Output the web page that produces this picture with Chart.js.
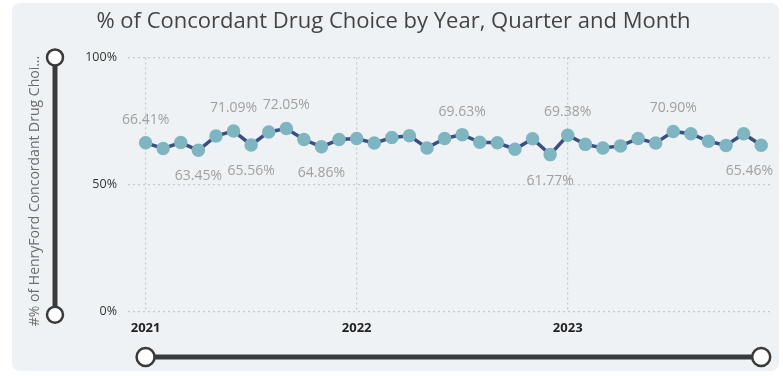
<!DOCTYPE html>
<html>
<head>
<meta charset="utf-8">
<script src="https://cdn.jsdelivr.net/npm/chart.js@4"></script>
<style>
  html, body { margin: 0; padding: 0; background: #ffffff; }
  #wrap { width: 783px; height: 376px; position: relative; }
</style>
</head>
<body>
<div id="wrap"><canvas id="drugChoiceChart" width="783" height="376"></canvas></div>
<script>
// Yearly tick labels (one tick every 12 months)
const years = ['2021', '2022', '2023'];

// Monthly % of concordant drug choice, Jan 2021 .. Dec 2023
const concordantPct = [
  66.41, 64.2, 66.5, 63.45, 69.1, 71.09, 65.56, 70.7, 72.05, 67.7, 64.86, 67.7,
  68.1, 66.3, 68.5, 69.2, 64.4, 68.1, 69.63, 66.6, 66.4, 63.9, 68.0, 61.77,
  69.38, 65.8, 64.4, 65.2, 68.1, 66.3, 70.90, 70.0, 67.0, 65.4, 70.0, 65.46
];

// Which points get a value label, and on which side of the line
const labelsAbove = [0, 5, 8, 18, 24, 30];
const labelsBelow = [3, 6, 10, 23, 35];

const FONT = "'Open Sans', 'Noto Sans', sans-serif";

// Light card behind the whole visual
const cardBackground = {
  id: 'cardBackground',
  beforeDraw(chart) {
    const ctx = chart.ctx;
    ctx.save();
    ctx.fillStyle = '#eef2f4';
    ctx.beginPath();
    ctx.roundRect(12, 3, 767, 368, 8);
    ctx.fill();
    ctx.restore();
  }
};

// Value labels, slicer bars and the rotated axis caption
const overlay = {
  id: 'overlay',
  afterDatasetsDraw(chart) {
    const ctx = chart.ctx;
    const meta = chart.getDatasetMeta(0);
    ctx.save();
    ctx.font = '14px ' + FONT;
    ctx.fillStyle = '#a0a0a0';
    ctx.textAlign = 'center';
    ctx.textBaseline = 'middle';
    const put = (i, dy) => {
      const p = meta.data[i];
      const txt = concordantPct[i].toFixed(2) + '%';
      const half = ctx.measureText(txt).width / 2;
      const x = Math.min(p.x, 773 - half);
      ctx.fillText(txt, x, p.y + dy);
    };
    labelsAbove.forEach(i => put(i, -23));
    labelsBelow.forEach(i => put(i, 26));
    ctx.restore();
  },
  afterDraw(chart) {
    const ctx = chart.ctx;
    const xs = chart.scales.x;
    const ys = chart.scales.y;

    // rotated y caption
    ctx.save();
    ctx.translate(35, 191);
    ctx.rotate(-Math.PI / 2);
    ctx.font = '14px ' + FONT;
    ctx.fillStyle = '#6e6e6e';
    ctx.textAlign = 'center';
    ctx.textBaseline = 'middle';
    ctx.fillText('#% of HenryFord Concordant Drug Choi...', 0, 0);
    ctx.restore();

    const handle = (x, y, r) => {
      ctx.beginPath();
      ctx.arc(x, y, r, 0, Math.PI * 2);
      ctx.fillStyle = '#ffffff';
      ctx.fill();
      ctx.lineWidth = 2.5;
      ctx.strokeStyle = '#3a3a3a';
      ctx.stroke();
    };

    ctx.save();
    ctx.strokeStyle = '#3a3a3a';
    ctx.lineCap = 'butt';

    // vertical range slider
    const vx = 55;
    const vTop = ys.getPixelForValue(100);
    const vBot = ys.getPixelForValue(0) + 3;
    ctx.lineWidth = 5;
    ctx.beginPath();
    ctx.moveTo(vx, vTop);
    ctx.lineTo(vx, vBot);
    ctx.stroke();
    handle(vx, vTop, 8);
    handle(vx, vBot, 8);

    // horizontal date slider
    const hy = 357;
    const hLeft = xs.getPixelForValue(0);
    const hRight = xs.getPixelForValue(concordantPct.length - 1);
    ctx.strokeStyle = '#3a3a3a';
    ctx.lineWidth = 5;
    ctx.beginPath();
    ctx.moveTo(hLeft, hy);
    ctx.lineTo(hRight, hy);
    ctx.stroke();
    handle(hLeft, hy, 9);
    handle(hRight, hy, 9);
    ctx.restore();
  }
};

const ctx = document.getElementById('drugChoiceChart').getContext('2d');

new Chart(ctx, {
  type: 'line',
  data: {
    datasets: [{
      data: concordantPct.map((v, i) => ({ x: i, y: v })),
      borderColor: '#3a5080',
      borderWidth: 3.5,
      pointBackgroundColor: '#7fb5c1',
      pointBorderColor: '#7fb5c1',
      pointRadius: 5,
      tension: 0
    }]
  },
  options: {
    responsive: false,
    animation: false,
    layout: { padding: { left: 17, right: 13, top: 0, bottom: 0 } },
    plugins: {
      legend: { display: false },
      tooltip: { enabled: false },
      title: {
        display: true,
        text: '% of Concordant Drug Choice by Year, Quarter and Month',
        color: '#444444',
        font: { family: FONT, size: 22, weight: 'normal' },
        padding: { top: 9, bottom: 22 }
      }
    },
    scales: {
      x: {
        type: 'linear',
        min: -1,
        max: 35.5,
        afterBuildTicks(scale) {
          scale.ticks = years.map((y, i) => ({ value: i * 12 }));
        },
        afterFit(scale) { scale.height = 64.3; },
        ticks: {
          callback: v => years[v / 12],
          color: '#222222',
          font: { family: FONT, size: 13, weight: 'bold' },
          padding: 9,
          maxRotation: 0
        },
        grid: {
          color: '#c5c9ce',
          lineWidth: 1.2,
          drawTicks: false
        },
        border: { display: false, dash: [2, 3] }
      },
      y: {
        min: 0,
        max: 100,
        afterFit(scale) { scale.width = 111; },
        ticks: {
          stepSize: 50,
          callback: v => v + '%',
          color: '#333333',
          font: { family: FONT, size: 12.5 },
          padding: 11
        },
        grid: {
          color: '#c5c9ce',
          lineWidth: 1.2,
          drawTicks: false
        },
        border: { display: false, dash: [2, 3] }
      }
    }
  },
  plugins: [cardBackground, overlay]
});
</script>
</body>
</html>
